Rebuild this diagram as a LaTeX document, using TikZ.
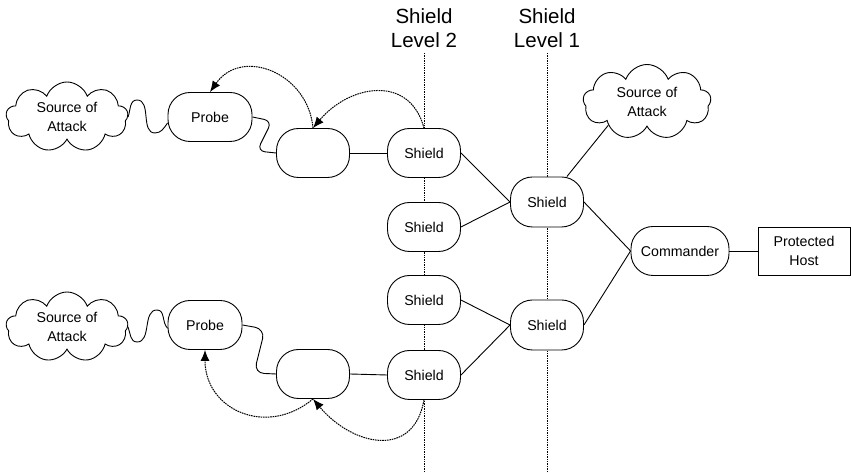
\documentclass[tikz,border=0pt]{standalone}
\usepackage{fontspec}
\setmainfont{Liberation Sans}
\usetikzlibrary{shapes.symbols,arrows.meta}
\begin{document}
\begin{tikzpicture}[x=1pt,y=1pt,
  every node/.style={font=\fontsize{14.2}{19.5}\selectfont, align=center},
  pill/.style={draw, fill=white, line width=0.9pt, rounded corners=22pt,
    minimum width=73pt, minimum height=49pt, inner sep=0pt},
  puff/.style={draw, fill=white, line width=0.9pt, cloud, cloud puffs=9,
    cloud puff arc=140, cloud ignores aspect, minimum width=122pt,
    minimum height=70pt, inner sep=0pt},
  hostbox/.style={draw, fill=white, line width=0.9pt, minimum width=92pt,
    minimum height=48pt, inner sep=0pt},
  level/.style={font=\fontsize{20.5}{24}\selectfont},
  levelline/.style={line width=0.8pt, dash pattern=on 1.4pt off 1pt},
  link/.style={line width=0.9pt},
  probearrow/.style={line width=1pt, dash pattern=on 1.6pt off 0.8pt,
    -{Latex[length=11pt,width=9pt]}}]
\useasboundingbox (0,0) rectangle (851,473);

% shield level markers
\node[level] (lv2) at (424,445) {Shield\\Level 2};
\node[level] (lv1) at (547,445) {Shield\\Level 1};
\coordinate (t2) at (424,420);
\coordinate (b2end) at (424,0);
\coordinate (t1) at (547,420);
\coordinate (b1end) at (547,0);
\draw[levelline] (t2) -- (b2end);
\draw[levelline] (t1) -- (b1end);

% nodes
\node[puff] (c1) at (67,356) {Source of\\Attack};
\node[puff] (c2) at (67,146) {Source of\\Attack};
\node[puff, minimum width=128pt, minimum height=75pt] (c3) at (647,371) {Source of\\Attack};

\node[pill, minimum width=84pt] (p1) at (210,356) {Probe};
\node[pill, minimum width=74pt] (p2) at (205,148) {Probe};
\node[pill] (b1) at (313,320) {};
\node[pill] (b2) at (313,99) {};

\node[pill] (s1) at (424,320) {Shield};
\node[pill] (s2) at (424,246) {Shield};
\node[pill] (s3) at (424,173) {Shield};
\node[pill] (s4) at (424,98) {Shield};

\node[pill, minimum height=50pt] (l1) at (547,271) {Shield};
\node[pill, minimum height=50pt] (l2) at (547,148) {Shield};

\node[pill, minimum width=98pt] (cmd) at (680,222) {Commander};
\node[hostbox] (host) at (804,222) {Protected\\Host};

% wavy links from the attack sources to the probes
\draw[link] (c1.east) to[out=70,in=180] (137,373) to[out=0,in=180] (155,340)
  to[out=0,in=235] (p1.188);
\draw[link] (c2.east) to[out=-70,in=180] (137,131) to[out=0,in=180] (157,163)
  to[out=0,in=135] (p2.185);

% probe to relay node
\draw[link, rounded corners=8pt] (p1.east) -- (272,352) -- (257,322) -- (b1.west);
\draw[link, rounded corners=10pt] (p2.east) -- (265,144) -- (254,100) -- (b2.west);

% straight links
\draw[link] (b1.east) -- (s1.west);
\draw[link] (b2.east) -- (s4.west);
\draw[link] (s1.east) -- (l1.west);
\draw[link] (s2.east) -- (l1.west);
\draw[link] (s3.east) -- (l2.west);
\draw[link] (s4.east) -- (l2.west);
\draw[link] (l1.52) -- (c3.211);
\draw[link] (l1.east) -- (cmd.west);
\draw[link] (l2.east) -- (cmd.west);
\draw[link] (cmd.east) -- (host.west);

% dotted arrows
\draw[probearrow] (s1.north) to[out=105,in=50,looseness=1.3] (b1.north);
\draw[probearrow] (b1.north) to[out=95,in=55,looseness=1.3] (p1.north);
\draw[probearrow] (s4.south) to[out=-100,in=-50,looseness=1.4] (b2.south);
\draw[probearrow] (b2.south) to[out=220,in=-90,looseness=1.3] (p2.south);
\end{tikzpicture}
\end{document}
